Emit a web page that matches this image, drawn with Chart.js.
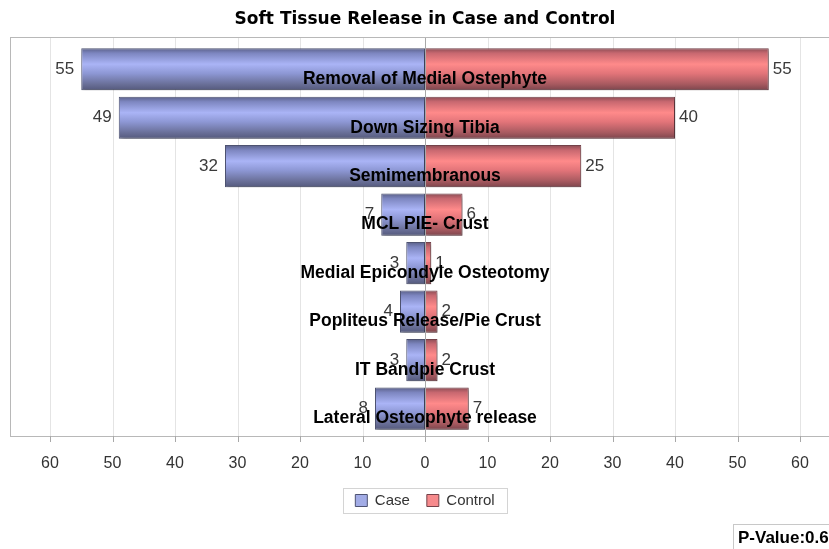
<!DOCTYPE html>
<html>
<head>
<meta charset="utf-8">
<script src="https://cdn.jsdelivr.net/npm/chart.js@4/dist/chart.umd.min.js"></script>
<style>
  html, body { margin:0; padding:0; background:#fff; overflow:hidden; width:829px; height:549px; }
  #wrap { position:absolute; left:0; top:0; width:850px; height:549px; }
  #pval { position:absolute; left:733px; top:524px; padding:3px 0 5px 4px; border-left:1px solid #c8c8c8; border-top:1px solid #c8c8c8;
          font: bold 17px "Liberation Sans", Arial, sans-serif; color:#000; white-space:nowrap; }
</style>
</head>
<body>
<div id="wrap"><canvas id="c" width="850" height="549"></canvas></div>
<div id="pval">P-Value:0.6</div>
<script>
const categories = ["Removal of Medial Ostephyte","Down Sizing Tibia","Semimembranous","MCL PIE- Crust","Medial Epicondyle Osteotomy","Popliteus Release/Pie Crust","IT Bandpie Crust","Lateral Osteophyte release"];
const caseValues = [55, 49, 32, 7, 3, 4, 3, 8];
const controlValues = [55, 40, 25, 6, 1, 2, 2, 7];
const xTicks = [-60,-50,-40,-30,-20,-10,0,10,20,30,40,50,60];
const seriesNames = ["Case","Control"];

const FONT = '"Liberation Sans", Arial, sans-serif';
const BAR_PCT = 0.87;
const BOX_TOP = 37, BOX_BOTTOM = 436;
const SOLID = ['#a2ace6', '#f68a8c'];
const EDGE = ['#4e5372', '#74424a'];

function gradFill(stops, solid) {
  return function(ctx) {
    const chart = ctx.chart;
    const ys = chart.scales && chart.scales.y;
    if (ctx.type !== 'data' || !ys || !chart.chartArea) return solid;
    const c = ys.getPixelForValue(ctx.dataIndex);
    const pitch = Math.abs(ys.getPixelForValue(1) - ys.getPixelForValue(0));
    const half = pitch * BAR_PCT / 2;
    const g = chart.ctx.createLinearGradient(0, c - half, 0, c + half);
    stops.forEach(s => g.addColorStop(s[0], s[1]));
    return g;
  };
}
const blueStops = [[0,'#5a6088'],[0.12,'#7d86c0'],[0.38,'#aab4f6'],[0.6,'#8d97d4'],[0.85,'#6a7099'],[1,'#54597c']];
const redStops  = [[0,'#8a4c54'],[0.12,'#c86870'],[0.38,'#ff8a8a'],[0.6,'#e27479'],[0.85,'#a85a60'],[1,'#7c454c']];

const framePlugin = {
  id: 'frame',
  beforeDatasetsDraw(chart) {
    const {ctx, scales:{x}} = chart;
    ctx.save();
    ctx.lineWidth = 1;
    ctx.strokeStyle = '#e4e4e4';
    xTicks.forEach(v => {
      if (v === 0) return;
      const px = Math.round(x.getPixelForValue(v)) + 0.5;
      ctx.beginPath(); ctx.moveTo(px, BOX_TOP); ctx.lineTo(px, BOX_BOTTOM); ctx.stroke();
    });
    ctx.restore();
    ctx.save();
    ctx.shadowColor = 'rgba(0,0,0,0.28)';
    ctx.shadowBlur = 3; ctx.shadowOffsetX = 2; ctx.shadowOffsetY = 2;
  },
  afterDatasetsDraw(chart) {
    const {ctx, scales:{x, y}} = chart;
    ctx.restore();
    const left = Math.round(x.getPixelForValue(x.min)) + 0.5, right = Math.round(x.getPixelForValue(x.max)) + 0.5;
    ctx.save();
    const z = Math.round(x.getPixelForValue(0)) + 0.5;
    ctx.strokeStyle = '#a8a8a8'; ctx.lineWidth = 1;
    ctx.beginPath(); ctx.moveTo(z, BOX_TOP); ctx.lineTo(z, BOX_BOTTOM); ctx.stroke();
    ctx.strokeStyle = '#b8b8b8';
    ctx.strokeRect(left, BOX_TOP + 0.5, right - left, BOX_BOTTOM - BOX_TOP);
    ctx.strokeStyle = '#a8a8a8';
    xTicks.forEach(v => {
      const px = Math.round(x.getPixelForValue(v)) + 0.5;
      ctx.beginPath(); ctx.moveTo(px, BOX_BOTTOM); ctx.lineTo(px, BOX_BOTTOM + 6); ctx.stroke();
    });
    ctx.font = '17px ' + FONT;
    ctx.fillStyle = '#3a3a3a';
    ctx.textBaseline = 'middle';
    categories.forEach((c, i) => {
      const cy = y.getPixelForValue(i);
      ctx.textAlign = 'right';
      ctx.fillText(String(caseValues[i]), x.getPixelForValue(-caseValues[i]) - 7, cy);
      ctx.textAlign = 'left';
      ctx.fillText(String(controlValues[i]), x.getPixelForValue(controlValues[i]) + 4, cy);
    });
    ctx.font = 'bold 17.5px ' + FONT;
    ctx.fillStyle = '#000';
    ctx.textAlign = 'center';
    categories.forEach((c, i) => {
      ctx.fillText(c, x.getPixelForValue(0), y.getPixelForValue(i) + 10);
    });
    ctx.restore();
  },
  afterDraw(chart) {
    const lg = chart.legend;
    if (!lg || !lg.legendHitBoxes || !lg.legendHitBoxes.length) return;
    const hb = lg.legendHitBoxes;
    let l = Infinity, r = -Infinity, t = Infinity, b = -Infinity;
    hb.forEach(h => { l = Math.min(l, h.left); r = Math.max(r, h.left + h.width); t = Math.min(t, h.top); b = Math.max(b, h.top + h.height); });
    const ctx = chart.ctx;
    ctx.save();
    ctx.strokeStyle = '#d4d4d4'; ctx.lineWidth = 1;
    ctx.strokeRect(Math.round(l - 12) + 0.5, Math.round(t - 5) + 0.5, Math.round(r - l + 25), Math.round(b - t + 10));
    ctx.restore();
  }
};

new Chart(document.getElementById('c'), {
  type: 'bar',
  data: {
    labels: categories,
    datasets: [
      { label: seriesNames[0], data: caseValues.map(v => -v),
        backgroundColor: gradFill(blueStops, SOLID[0]), borderColor: EDGE[0], borderWidth: 1, borderSkipped: false },
      { label: seriesNames[1], data: controlValues,
        backgroundColor: gradFill(redStops, SOLID[1]), borderColor: EDGE[1], borderWidth: 1, borderSkipped: false }
    ]
  },
  options: {
    indexAxis: 'y',
    responsive: false,
    animation: false,
    maintainAspectRatio: false,
    layout: { padding: { left: 10, right: 10, top: 0, bottom: 31 } },
    datasets: { bar: { categoryPercentage: 1, barPercentage: BAR_PCT } },
    scales: {
      x: {
        stacked: true, min: -66.4, max: 66.4,
        grid: { display: false },
        border: { display: false },
        afterBuildTicks: s => { s.ticks = xTicks.map(v => ({ value: v })); },
        afterFit: s => { s.height -= 10; },
        ticks: { font: { size: 16, family: FONT }, color: '#333', padding: 13, maxRotation: 0,
                 callback: v => String(Math.abs(v)) }
      },
      y: { stacked: true, display: false, offset: true }
    },
    plugins: {
      title: { display: true, text: 'Soft Tissue Release in Case and Control', color: '#000',
               font: { size: 17, weight: 'bold', family: '"DejaVu Sans", sans-serif' }, padding: { top: 9, bottom: 15.6 } },
      legend: { position: 'bottom',
        labels: { font: { size: 15, family: FONT }, color: '#333', boxWidth: 12, boxHeight: 12, padding: 17,
          generateLabels: chart => Chart.defaults.plugins.legend.labels.generateLabels(chart).map((it, i) => {
            it.fillStyle = SOLID[i]; it.strokeStyle = EDGE[i]; it.lineWidth = 1; return it; }) } },
      tooltip: { enabled: false }
    }
  },
  plugins: [framePlugin]
});
</script>
</body>
</html>
